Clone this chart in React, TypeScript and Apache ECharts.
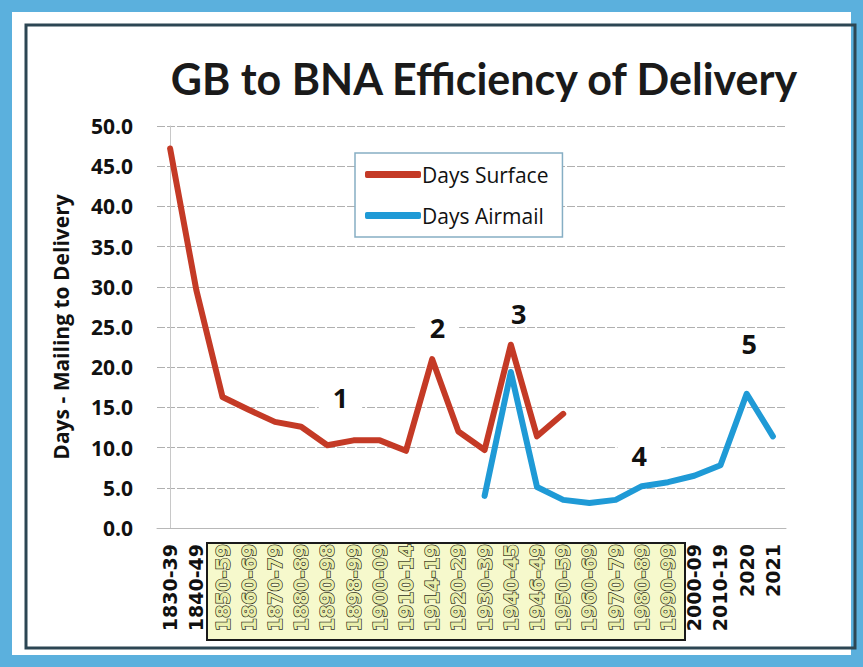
import React, { useEffect, useRef } from "react";
import * as echarts from "echarts";

const categories = [
  "1830-39", "1840-49", "1850-59", "1860-69", "1870-79", "1880-89", "1890-98", "1898-99",
  "1900-09", "1910-14", "1914-19", "1920-29", "1930-39", "1940-45", "1946-49", "1950-59",
  "1960-69", "1970-79", "1980-89", "1990-99", "2000-09", "2010-19", "2020", "2021",
];

const surfaceDays = [
  47.2, 29.6, 16.3, 14.7, 13.2, 12.6, 10.3, 10.9, 10.9, 9.6, 21.0, 12.0, 9.7, 22.8, 11.4, 14.2,
  null, null, null, null, null, null, null, null,
];

const airmailDays = [
  null, null, null, null, null, null, null, null, null, null, null, null,
  4.0, 19.4, 5.1, 3.5, 3.1, 3.5, 5.2, 5.7, 6.5, 7.8, 16.7, 11.4,
];

const highlightedFrom = 2; // 1850-59
const highlightedTo = 19; // 1990-99

const annotationLabels = ["1", "2", "3", "4", "5"];
const annotationX = [6.5, 10.2, 13.3, 17.9, 22.1];
const annotationY = [16.2, 25.0, 26.7, 9.0, 23.0];

const yTicks = [0, 5, 10, 15, 20, 25, 30, 35, 40, 45, 50];

const RED = "#c43a26";
const BLUE = "#1f9ad6";

export default function App() {
  const ref = useRef<HTMLDivElement>(null);

  useEffect(() => {
    if (!ref.current) return;
    const chart = echarts.init(ref.current, null, { renderer: "svg" });

    const option: any = {
      animation: false,
      backgroundColor: "#ffffff",
      title: {
        text: "GB to BNA Efficiency of Delivery",
        left: 479,
        top: 52,
        textAlign: "center",
        textStyle: {
          fontFamily: "Lato",
          fontWeight: "bold",
          fontSize: 43,
          color: "#1a1a1a",
        },
      },
      legend: {
        orient: "vertical",
        left: 355,
        top: 153,
        width: 217,
        padding: [11, 14, 11, 10],
        itemGap: 20,
        itemWidth: 56,
        itemHeight: 7,
        borderColor: "#86aec4",
        borderWidth: 1.5,
        backgroundColor: "#ffffff",
        icon: "roundRect",
        textStyle: {
          fontFamily: "Open Sans",
          fontSize: 21,
          color: "#111",
          padding: [0, 0, 0, -4],
        },
        data: ["Days Surface", "Days Airmail"],
      },
      grid: {
        left: 157,
        right: 77,
        top: 126,
        bottom: 139,
      },
      xAxis: [
        {
          type: "category",
          data: categories,
          boundaryGap: true,
          axisLine: { show: true, lineStyle: { color: "#b8b8b8", width: 1 } },
          axisTick: { show: false },
          splitLine: { show: false },
          axisLabel: {
            rotate: 90,
            interval: 0,
            margin: 16,
            formatter: (v: string, i: number) =>
              i >= highlightedFrom && i <= highlightedTo ? `{h|${v}}` : `{n|${v}}`,
            rich: {
              n: {
                fontFamily: "DejaVu Sans",
                fontWeight: "bold",
                fontSize: 19,
                color: "#111",
              },
              h: {
                fontFamily: "DejaVu Sans",
                fontWeight: "bold",
                fontSize: 19,
                color: "#e9eeac",
                textBorderColor: "#2e2e22",
                textBorderWidth: 1.4,
              },
            },
          },
        },
        {
          type: "value",
          min: -0.5,
          max: categories.length - 0.5,
          show: false,
          gridIndex: 0,
        },
      ],
      yAxis: {
        type: "value",
        min: 0,
        max: 50,
        interval: 5,
        name: "Days - Mailing to Delivery",
        nameLocation: "middle",
        nameRotate: 90,
        nameGap: 86,
        nameTextStyle: {
          fontFamily: "Open Sans",
          fontWeight: "bold",
          fontSize: 21,
          color: "#111",
        },
        axisLine: { show: true, lineStyle: { color: "#c8c8c8", width: 1 } },
        axisTick: { show: false },
        axisLabel: {
          margin: 24,
          fontFamily: "Open Sans",
          fontWeight: "bold",
          fontSize: 21,
          color: "#111",
          formatter: (v: number) => (yTicks.includes(v) ? v.toFixed(1) : ""),
        },
        splitLine: {
          show: true,
          lineStyle: { color: "#b0b0b0", width: 1, type: [8, 2] },
        },
      },
      series: [
        {
          name: "Days Surface",
          type: "line",
          data: surfaceDays,
          connectNulls: false,
          symbol: "none",
          itemStyle: { color: RED },
          lineStyle: { color: RED, width: 6, cap: "round", join: "round" },
          z: 3,
        },
        {
          name: "Days Airmail",
          type: "line",
          data: airmailDays,
          connectNulls: false,
          symbol: "none",
          itemStyle: { color: BLUE },
          lineStyle: { color: BLUE, width: 6, cap: "round", join: "round" },
          z: 4,
        },
        {
          name: "annotations",
          type: "scatter",
          xAxisIndex: 1,
          symbolSize: 0,
          silent: true,
          itemStyle: { opacity: 1 },
          data: annotationLabels.map((l, i) => ({
            name: l,
            value: [annotationX[i], annotationY[i]],
          })),
          label: {
            show: true,
            position: "inside",
            formatter: (p: any) => p.name,
            fontFamily: "Open Sans",
            fontWeight: "bold",
            fontSize: 27,
            color: "#111111",
            opacity: 1,
            backgroundColor: "#ffffff",
            padding: [0, 14, 0, 14],
          },
          z: 2,
        },
      ],
      graphic: [
        {
          type: "rect",
          shape: { x: 6, y: 6, width: 851, height: 655 },
          style: { fill: "none", stroke: "#5bb0dd", lineWidth: 12 },
          z: 0,
          silent: true,
        },
        {
          type: "rect",
          shape: { x: 26, y: 25, width: 829, height: 623 },
          style: { fill: "none", stroke: "#2c4653", lineWidth: 3 },
          z: 0,
          silent: true,
        },
        {
          type: "rect",
          shape: { x: 207, y: 543, width: 478, height: 97 },
          style: { fill: "#f6f9cc", stroke: "#1a1a1a", lineWidth: 2 },
          z: -1,
          silent: true,
        },
      ],
    };

    chart.setOption(option);
    return () => chart.dispose();
  }, []);

  return (
    <div
      ref={ref}
      style={{ position: "fixed", left: 0, top: 0, width: 863, height: 667 }}
    />
  );
}
